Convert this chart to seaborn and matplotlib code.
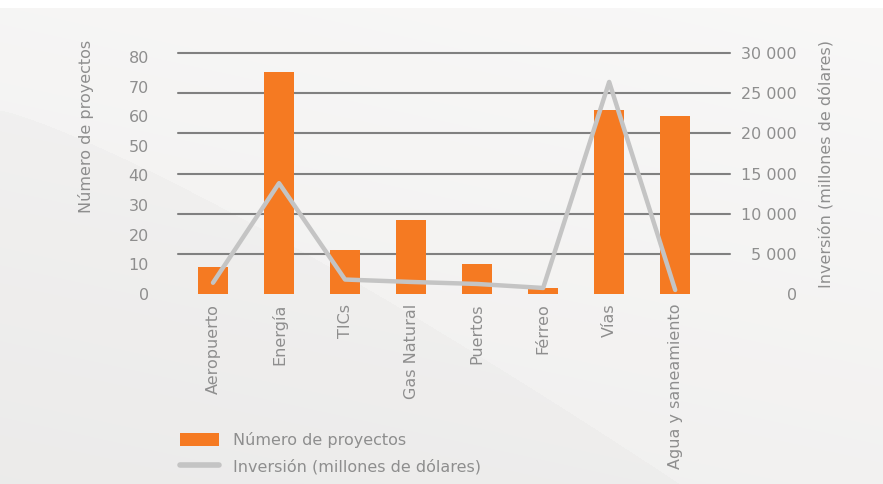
import numpy as np
import matplotlib
matplotlib.use("Agg")
import matplotlib.pyplot as plt
import seaborn as sns
from matplotlib.patches import Patch
from matplotlib.lines import Line2D

# ---- data ----
categories = ["Aeropuerto", "Energía", "TICs", "Gas Natural", "Puertos",
              "Férreo", "Vías", "Agua y saneamiento"]
projects = [9, 75, 15, 25, 10, 2, 62, 60]
investment = [1400, 13800, 1800, 1500, 1250, 750, 26400, 500]
left_ticks = [0, 10, 20, 30, 40, 50, 60, 70, 80]
right_ticks = [0, 5000, 10000, 15000, 20000, 25000, 30000]
right_tick_labels = ["0", "5 000", "10 000", "15 000", "20 000", "25 000", "30 000"]
left_label = "Número de proyectos"
right_label = "Inversión (millones de dólares)"

ORANGE = "#F57A22"
LINE_GRAY = "#C4C4C4"
GRID = "#808080"
TEXT = "#8E8E8E"
FS = 11.5

sns.set_style("white")
plt.rcParams["font.family"] = ["DejaVu Sans"]

W, H = 883, 484
fig = plt.figure(figsize=(W / 100, H / 100), dpi=100, facecolor="white")

# background gradient (decorative)
bg = fig.add_axes([0, 0, 1, 1], zorder=-10)
yy, xx = np.mgrid[0:H, 0:W].astype(float)
t = np.clip(xx / 680.0, 0, 1)
boundary = 110 + (H - 110) * t ** 1.2
below = yy > boundary
base = 0.975 - 0.025 * (yy / H) - 0.01 * (1 - xx / W)
base = np.where(below, base - 0.015, base)
img = np.dstack([base, base - 0.003, base - 0.006])
img = np.clip(img, 0, 1)
img[:8, :, :] = 1.0
bg.imshow(img, aspect="auto", extent=[0, 1, 0, 1], origin="upper")
bg.axis("off")

# main axes
left_px, right_px, bottom_px, top_px = 178, 730, 294, 53
ax1 = fig.add_axes([left_px / W, 1 - bottom_px / H,
                    (right_px - left_px) / W, (bottom_px - top_px) / H])
ax1.patch.set_visible(False)
left_max = 81.35
right_max = right_ticks[-1]

x = np.arange(len(categories))
sns.barplot(x=x, y=projects, ax=ax1, color=ORANGE, width=0.45,
            saturation=1, native_scale=True, linewidth=0, zorder=3)
ax1.set_xlim(-0.53, 7.83)
ax1.set_ylim(0, left_max)
ax1.set_yticks(left_ticks)
ax1.set_yticklabels([str(v) for v in left_ticks])
# gridlines aligned with right axis ticks, behind the bars
ax1.set_yticks([v * left_max / right_max for v in right_ticks], minor=True)
ax1.yaxis.grid(True, which="minor", color=GRID, linewidth=1.5, zorder=0)
ax1.yaxis.grid(False, which="major")
for tk in ax1.yaxis.get_minor_ticks():
    tk.gridline.set_clip_on(False)
ax1.set_axisbelow(True)
ax1.set_xticks(x)
ax1.set_xticklabels(categories, rotation=90, va="top", ha="center")
ax1.tick_params(axis="y", which="both", length=0, pad=21, labelsize=FS, labelcolor=TEXT)
ax1.tick_params(axis="x", length=0, pad=7, labelsize=FS, labelcolor=TEXT)
for s in ax1.spines.values():
    s.set_visible(False)
ax1.set_xlabel("")
ax1.set_ylabel("")

ax2 = ax1.twinx()
sns.lineplot(x=x, y=investment, ax=ax2, color=LINE_GRAY, linewidth=3.2,
             sort=False, zorder=5)
ax2.set_ylim(0, right_max)
ax2.set_yticks(right_ticks)
ax2.set_yticklabels(right_tick_labels)
ax2.tick_params(axis="y", length=0, pad=48, labelsize=FS, labelcolor=TEXT)
for lab in ax2.get_yticklabels():
    lab.set_ha("right")
for s in ax2.spines.values():
    s.set_visible(False)
ax2.set_ylabel("")

# axis titles
fig.text(86 / W, 1 - 40 / H, left_label, rotation=90, ha="center", va="top",
         fontsize=FS, color=TEXT)
fig.text(826 / W, 1 - 40 / H, right_label, rotation=90, ha="center", va="top",
         fontsize=FS, color=TEXT)

# legend
handles = [Patch(facecolor=ORANGE, edgecolor="none"),
           Line2D([0], [0], color=LINE_GRAY, linewidth=4)]
leg = fig.legend(handles, ["Número de proyectos", right_label],
                 loc="upper left", bbox_to_anchor=(166 / W, 1 - 418 / H),
                 frameon=False, fontsize=FS, handlelength=2.4, handleheight=0.9,
                 handletextpad=0.9, labelspacing=0.65, labelcolor=TEXT)

fig.savefig("out.png", dpi=100, facecolor=fig.get_facecolor())
